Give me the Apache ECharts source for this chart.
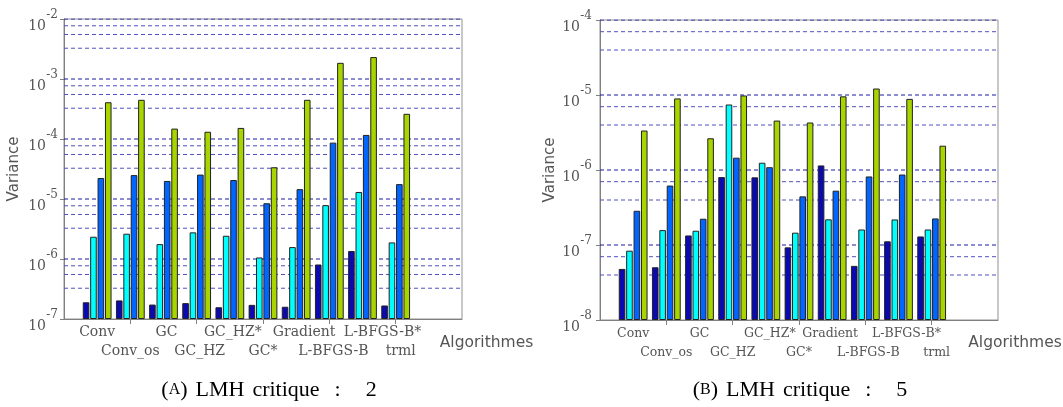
<!DOCTYPE html>
<html>
<head>
<meta charset="utf-8">
<script src="https://cdn.jsdelivr.net/npm/echarts@6/dist/echarts.min.js"></script>
<style>
  html, body { margin: 0; padding: 0; background: #fff; }
  #main { width: 1063px; height: 407px; }
</style>
</head>
<body>
<div id="main"></div>
<script>
// 算法名称
var categories = ['Conv', 'Conv_os', 'GC', 'GC_HZ', 'GC_HZ*', 'GC*', 'Gradient', 'L-BFGS-B', 'L-BFGS-B*', 'trml'];

// (A) LMH critique : 2
var navyA  = [1.9e-7, 2.04e-7, 1.74e-7, 1.84e-7, 1.57e-7, 1.72e-7, 1.6e-7, 8.1e-7, 1.36e-6, 1.68e-7];
var cyanA  = [2.35e-6, 2.64e-6, 1.77e-6, 2.78e-6, 2.44e-6, 1.06e-6, 1.58e-6, 7.9e-6, 1.31e-5, 1.89e-6];
var blueA  = [2.24e-5, 2.5e-5, 2.0e-5, 2.55e-5, 2.07e-5, 8.5e-6, 1.46e-5, 8.7e-5, 1.17e-4, 1.77e-5];
var greenA = [4.1e-4, 4.5e-4, 1.49e-4, 1.32e-4, 1.53e-4, 3.38e-5, 4.5e-4, 1.86e-3, 2.32e-3, 2.63e-4];

// (B) LMH critique : 5
var navyB  = [4.8e-8, 5.05e-8, 1.34e-7, 8.05e-7, 7.98e-7, 9.3e-8, 1.15e-6, 5.27e-8, 1.12e-7, 1.3e-7];
var cyanB  = [8.4e-8, 1.58e-7, 1.55e-7, 7.47e-6, 1.25e-6, 1.46e-7, 2.2e-7, 1.61e-7, 2.19e-7, 1.61e-7];
var blueB  = [2.86e-7, 6.2e-7, 2.24e-7, 1.46e-6, 1.09e-6, 4.45e-7, 5.3e-7, 8.2e-7, 8.7e-7, 2.26e-7];
var greenB = [3.36e-6, 9.0e-6, 2.65e-6, 9.86e-6, 4.56e-6, 4.3e-6, 9.6e-6, 1.22e-5, 8.87e-6, 2.11e-6];

// 坐标轴范围 (对数)
var yRangeA = [1e-7, 1e-2];
var yRangeB = [1e-8, 1e-4];

// 每个十进位下面的额外虚线 (十进位的比例)
var extraA = [0.113, 0.258, 0.487];
var extraB = [0.156, 0.40];

// 标签水平偏移 (px), 按类别
var labelShiftA = { 'Gradient': 8, 'L-BFGS-B*': 20, 'GC': 3, 'GC_HZ': 3, 'GC_HZ*': 3, 'L-BFGS-B': 4, 'trml': 5 };
var labelShiftB = { 'Gradient': -2, 'L-BFGS-B*': 8, 'GC_HZ*': 4, 'L-BFGS-B': 3, 'trml': 5 };

var colors = ['#0a0ab0', '#00ffff', '#0066ff', '#a8d400'];

var myChart = echarts.init(document.getElementById('main'));

// x轴: 0..12, 算法在 1..10
var xData = [''].concat(categories, ['', '']);
function pad(arr) { return ['-'].concat(arr, ['-', '-']); }

// 每个十进位 (含) 往下偏移 f 的数值
function lineValues(range, fr) {
  var lo = Math.round(Math.log10(range[0])), hi = Math.round(Math.log10(range[1]));
  var out = [];
  for (var k = hi; k > lo; k--) {
    fr.forEach(function (f) { out.push(Math.pow(10, k - f)); });
  }
  return out;
}

var serif = 'DejaVu Serif';
var gray = '#555';

function xAxis(idx, shifts, fs) {
  var rich = {};
  categories.forEach(function (c, i) {
    var s = shifts[c] || 0;
    rich['c' + i] = { fontFamily: serif, fontSize: fs, color: gray, lineHeight: 19,
      padding: s >= 0 ? [0, 0, 0, 2 * s] : [0, -2 * s, 0, 0] };
  });
  return {
    type: 'category', gridIndex: idx, data: xData, boundaryGap: false,
    axisLine: { show: true, lineStyle: { color: '#808080' } },
    axisTick: { show: true, length: 5, lineStyle: { color: '#808080' },
      interval: function (i) { return i % 2 === 0 && i >= 2 && i <= 10; } },
    axisLabel: { interval: 0, margin: 4, fontFamily: serif, fontSize: fs, color: gray, lineHeight: 19,
      rich: rich,
      formatter: function (v, i) {
        if (!v) return '';
        var t = '{c' + (i - 1) + '|' + v + '}';
        return i % 2 === 0 ? '\n' + t : t;
      } },
    splitLine: { show: false }
  };
}

function yAxis(idx, range, margin) {
  return {
    type: 'log', logBase: 10, gridIndex: idx, min: range[0], max: range[1], startValue: range[0],
    name: 'Variance', nameLocation: 'middle', nameGap: 42,
    nameTextStyle: { fontFamily: 'DejaVu Sans', fontSize: 15, color: gray },
    axisLine: { show: true, lineStyle: { color: '#808080' } },
    axisTick: { show: true, length: 4, lineStyle: { color: '#808080' } },
    splitLine: { show: false },
    axisLabel: {
      margin: margin,
      // 上标: 第一行指数, 第二行 "10"
      formatter: function (v) { return '{e|' + Math.round(Math.log10(v)) + '}\n{b|10}'; },
      rich: {
        e: { fontFamily: serif, fontSize: 12, color: gray, lineHeight: 15 },
        b: { fontFamily: serif, fontSize: 14, color: gray, lineHeight: 9, padding: [0, 12, 0, 0] }
      }
    }
  };
}

function bars(idx, arrs) {
  return arrs.map(function (arr, j) {
    return {
      type: 'bar', xAxisIndex: idx, yAxisIndex: idx, data: pad(arr),
      barWidth: 6.6, barGap: '12%', z: 2,
      itemStyle: { color: colors[j], borderColor: '#222', borderWidth: 1 }
    };
  });
}

// 虚线网格 (水平线, 画在柱子下面)
function gridLines(idx, range, fr, color) {
  return lineValues(range, fr).map(function (v) {
    return {
      type: 'line', xAxisIndex: idx, yAxisIndex: idx, z: 1, silent: true,
      showSymbol: false, symbol: 'none',
      data: xData.map(function () { return v; }),
      lineStyle: { color: color, type: [4, 3], width: 1 },
      emphasis: { disabled: true }
    };
  });
}

function txt(x, y, rich, text, extra) {
  return { type: 'text', x: x, y: y, silent: true,
    style: Object.assign({ text: text, align: 'center', verticalAlign: 'middle', rich: rich }, extra || {}) };
}

var capRich = {
  p: { fontFamily: 'Liberation Serif', fontSize: 22, fill: '#000' },
  s: { fontFamily: 'Liberation Serif', fontSize: 16, fill: '#000' },
  w: { fontFamily: 'Liberation Serif', fontSize: 22, fill: '#000', padding: [0, 0, 0, 8] },
  c: { fontFamily: 'Liberation Serif', fontSize: 22, fill: '#000', padding: [0, 25, 0, 15] }
};

var option = {
  animation: false,
  grid: [
    { left: 64, top: 19, width: 398, height: 300, show: true, borderColor: '#909090', borderWidth: 1 },
    { left: 600, top: 20, width: 398, height: 300, show: true, borderColor: '#909090', borderWidth: 1 }
  ],
  xAxis: [xAxis(0, labelShiftA, 14), xAxis(1, labelShiftB, 12.5)],
  yAxis: [yAxis(0, yRangeA, 6), yAxis(1, yRangeB, 8)],
  series: gridLines(0, yRangeA, [0], '#1a1aa6')
    .concat(gridLines(0, yRangeA, extraA, '#5050c0'))
    .concat(gridLines(1, yRangeB, [0], '#1a1aa6'))
    .concat(gridLines(1, yRangeB, extraB, '#5050c0'))
    .concat(bars(0, [navyA, cyanA, blueA, greenA]))
    .concat(bars(1, [navyB, cyanB, blueB, greenB])),
  graphic: [
    // 轴名
    txt(486.5, 343, null, 'Algorithmes', { fontFamily: 'DejaVu Sans', fontSize: 15.5, fill: gray }),
    txt(1015, 343, null, 'Algorithmes', { fontFamily: 'DejaVu Sans', fontSize: 15.5, fill: gray }),
    // 图注
    txt(269, 390, capRich, '{p|(}{s|A}{p|)}{w|LMH}{w|critique}{c|:}{p|2}'),
    txt(800, 390, capRich, '{p|(}{s|B}{p|)}{w|LMH}{w|critique}{c|:}{p|5}')
  ]
};

myChart.setOption(option);
</script>
</body>
</html>
